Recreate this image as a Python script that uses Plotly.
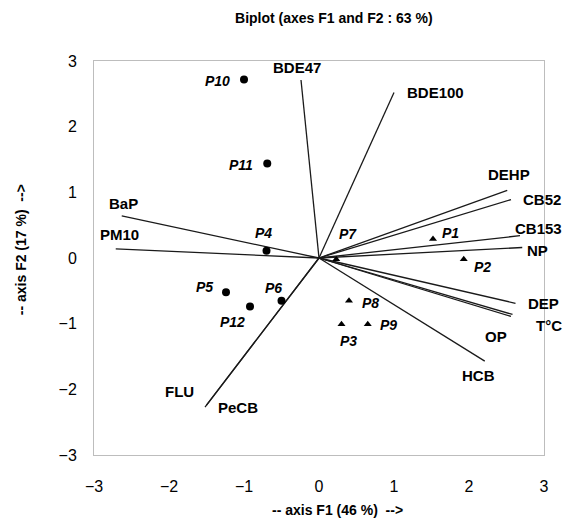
import plotly.graph_objects as go

# ---- data ----
var_names = ["BDE47", "BDE100", "DEHP", "CB52", "CB153", "NP", "DEP", "T°C", "OP",
             "HCB", "FLU", "PeCB", "BaP", "PM10"]
var_f1 = [-0.24, 1.00, 2.51, 2.56, 2.68, 2.71, 2.62, 2.58, 2.56, 2.21, -1.50, -1.52, -2.63, -2.71]
var_f2 = [2.71, 2.52, 1.03, 0.89, 0.34, 0.16, -0.69, -0.86, -0.89, -1.57, -2.24, -2.27, 0.64, 0.14]

circ_names = ["P4", "P5", "P6", "P10", "P11", "P12"]
circ_f1 = [-0.70, -1.24, -0.50, -1.00, -0.69, -0.92]
circ_f2 = [0.11, -0.52, -0.65, 2.72, 1.44, -0.74]

tri_names = ["P1", "P2", "P3", "P7", "P8", "P9"]
tri_f1 = [1.52, 1.93, 0.30, 0.23, 0.40, 0.65]
tri_f2 = [0.29, -0.02, -1.01, -0.02, -0.65, -1.01]

axis_ticks = [-3, -2, -1, 0, 1, 2, 3]

# ---- label offsets (pixels: dx right, dy up) ----
var_off = {"BDE47": (-4, 13), "BDE100": (41, 0), "DEHP": (2, 16), "CB52": (31, 0),
           "CB153": (18, 7), "NP": (15, -3), "DEP": (28, 0), "T°C": (36, -11),
           "OP": (-15, -20), "HCB": (-6, -14), "FLU": (-27, 14), "PeCB": (33, 0),
           "BaP": (2, 12), "PM10": (4, 14)}
obs_off = {"P10": (-27, -2), "P11": (-26, -2), "P4": (-3, 18), "P5": (-22, 5),
           "P6": (-8, 13), "P12": (-18, -15), "P1": (17, 6), "P2": (19, -8),
           "P7": (12, 25), "P8": (21, -2), "P3": (7, -17), "P9": (21, -1)}

FONT = "Liberation Sans, Arial, sans-serif"

fig = go.Figure()

# vectors from origin
lx, ly = [], []
for x, y in zip(var_f1, var_f2):
    lx += [0, x, None]
    ly += [0, y, None]
fig.add_trace(go.Scatter(x=lx, y=ly, mode="lines",
                         line=dict(color="#1a1a1a", width=1.3),
                         hoverinfo="skip", showlegend=False))

fig.add_trace(go.Scatter(x=circ_f1, y=circ_f2, mode="markers", text=circ_names,
                         marker=dict(symbol="circle", size=8, color="black"),
                         showlegend=False))
fig.add_trace(go.Scatter(x=tri_f1, y=tri_f2, mode="markers", text=tri_names,
                         marker=dict(symbol="triangle-up", size=7, color="black"),
                         showlegend=False))

annotations = []
for n, x, y in zip(var_names, var_f1, var_f2):
    dx, dy = var_off[n]
    annotations.append(dict(x=x, y=y, xref="x", yref="y", text="<b>%s</b>" % n,
                            showarrow=False, xshift=dx, yshift=dy,
                            font=dict(family=FONT, size=15, color="black")))
for names, xs, ys in ((circ_names, circ_f1, circ_f2), (tri_names, tri_f1, tri_f2)):
    for n, x, y in zip(names, xs, ys):
        dx, dy = obs_off[n]
        annotations.append(dict(x=x, y=y, xref="x", yref="y", text="<b><i>%s</i></b>" % n,
                                showarrow=False, xshift=dx, yshift=dy,
                                font=dict(family=FONT, size=14, color="black")))

annotations.append(dict(text="<b>-- axis F1 (46 %)\u00a0\u00a0--></b>", xref="paper", yref="paper",
                        x=0.54, y=-0.14, xanchor="center", yanchor="middle", showarrow=False,
                        font=dict(family=FONT, size=14, color="black")))
annotations.append(dict(text="<b>-- axis F2 (17 %)\u00a0\u00a0--></b>", xref="paper", yref="paper",
                        x=-0.162, y=0.52, xanchor="center", yanchor="middle", showarrow=False,
                        textangle=-90, font=dict(family=FONT, size=14, color="black")))

# page body has an 8px margin: size the figure so the plot lands where the reference has it
fig.update_layout(
    width=563, height=510,
    margin=dict(l=86, r=27, t=53, b=63),
    paper_bgcolor="white", plot_bgcolor="white",
    font=dict(family=FONT, color="black"),
    title=dict(text="<b>Biplot (axes F1 and F2 : 63 %)</b>", xref="paper", x=0.533,
               xanchor="center", yref="container", y=1 - 10 / 510, yanchor="middle",
               font=dict(family=FONT, size=14, color="black")),
    annotations=annotations,
    xaxis=dict(range=[-3, 3], tickvals=axis_ticks, showgrid=False, zeroline=False,
               showline=True, mirror=True, linecolor="#bdbdbd", linewidth=1,
               ticks="outside", ticklen=17, tickcolor="rgba(0,0,0,0)",
               tickfont=dict(family=FONT, size=16, color="black")),
    yaxis=dict(range=[-3, 3], tickvals=axis_ticks, showgrid=False, zeroline=False,
               showline=True, mirror=True, linecolor="#bdbdbd", linewidth=1,
               ticks="outside", ticklen=13, tickcolor="rgba(0,0,0,0)",
               tickfont=dict(family=FONT, size=16, color="black")),
    xaxis2=dict(range=[-3, 3], tickvals=axis_ticks, overlaying="x", anchor="free",
                position=0.5, showgrid=False, zeroline=False, showline=True,
                linecolor="#7a7a7a", linewidth=1, ticks="outside", ticklen=4,
                tickcolor="#7a7a7a", showticklabels=False),
    yaxis2=dict(range=[-3, 3], tickvals=axis_ticks, overlaying="y", anchor="free",
                position=0.5, showgrid=False, zeroline=False, showline=True,
                linecolor="#7a7a7a", linewidth=1, ticks="outside", ticklen=4,
                tickcolor="#7a7a7a", showticklabels=False),
)

fig.write_html("out.html")
